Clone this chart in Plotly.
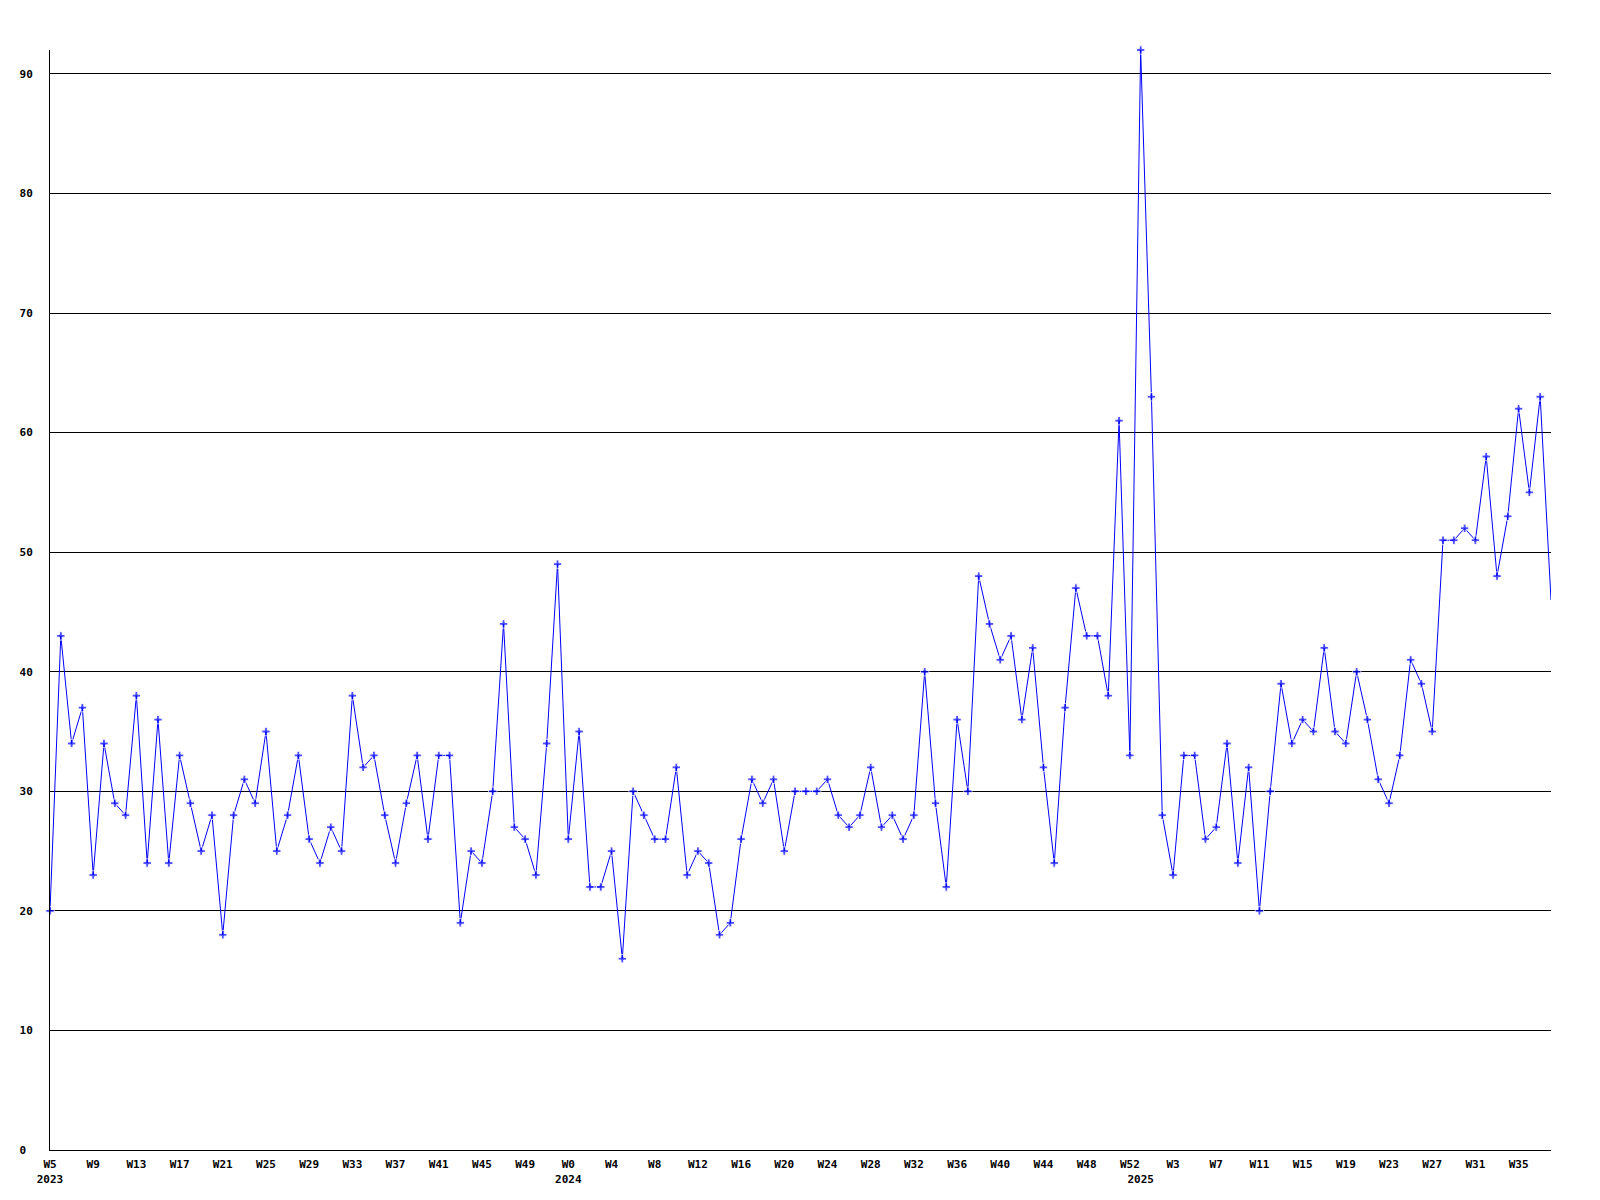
"""Weekly counts line chart, 2023 W5 to 2025 W38."""

import plotly.graph_objects as go

# Year segments: (year, first week, last week)
YEAR_WEEKS = [(2023, 5, 52), (2024, 0, 52), (2025, 0, 38)]

COUNTS = [
    # 2023 W5 - W52
    20, 43, 34, 37, 23, 34, 29, 28, 38, 24, 36, 24, 33, 29, 25, 28,
    18, 28, 31, 29, 35, 25, 28, 33, 26, 24, 27, 25, 38, 32, 33, 28,
    24, 29, 33, 26, 33, 33, 19, 25, 24, 30, 44, 27, 26, 23, 34, 49,
    # 2024 W0 - W52
    26, 35, 22, 22, 25, 16, 30, 28, 26, 26, 32, 23, 25, 24, 18, 19,
    26, 31, 29, 31, 25, 30, 30, 30, 31, 28, 27, 28, 32, 27, 28, 26,
    28, 40, 29, 22, 36, 30, 48, 44, 41, 43, 36, 42, 32, 24, 37, 47,
    43, 43, 38, 61, 33,
    # 2025 W0 - W38
    92, 63, 28, 23, 33, 33, 26, 27, 34, 24, 32, 20, 30, 39, 34, 36,
    35, 42, 35, 34, 40, 36, 31, 29, 33, 41, 39, 35, 51, 51, 52, 51,
    58, 48, 53, 62, 55, 63, 46,
]

Y_TICKS = [0, 10, 20, 30, 40, 50, 60, 70, 80, 90]

BLUE = "#0000FF"
FONT = "DejaVu Sans Mono"

years, weeks = [], []
for yr, w0, w1 in YEAR_WEEKS:
    for wk in range(w0, w1 + 1):
        years.append(yr)
        weeks.append(wk)

x = list(range(len(COUNTS)))

# x tick labels: every 4th week, year under the first point of each year
tickvals, ticktext = [], []
for i, (yr, wk) in enumerate(zip(years, weeks)):
    first = i == 0 or years[i - 1] != yr
    if i % 4 == 0:
        tickvals.append(i)
        ticktext.append(f"W{wk}" + (f"<br>{yr}" if first else ""))
    elif first:
        tickvals.append(i)
        ticktext.append(f"<br>{yr}")

sizes = [7] * len(COUNTS)
sizes[-1] = 0  # last point runs off the frame without a marker

fig = go.Figure()
fig.add_trace(go.Scatter(
    x=x,
    y=COUNTS,
    mode="lines+markers",
    line={"color": BLUE, "width": 1},
    marker={"symbol": "cross", "size": sizes, "color": BLUE},
    cliponaxis=False,
    showlegend=False,
))

# page body adds an 8px margin, so the figure is 16px smaller than the window
fig.update_layout(
    width=1584,
    height=1184,
    margin={"l": 42, "r": 41, "t": 42, "b": 42, "autoexpand": False},
    paper_bgcolor="white",
    plot_bgcolor="white",
    font={"family": FONT, "size": 11, "color": "black"},
    xaxis={
        "range": [0, len(COUNTS) - 1],
        "tickvals": tickvals,
        "ticktext": ticktext,
        "tickangle": 0,
        "ticks": "",
        "showgrid": False,
        "zeroline": False,
        "showline": True,
        "linecolor": "black",
        "linewidth": 1,
        "automargin": False,
        "ticklabelstandoff": 4,
        "tickfont": {"family": FONT, "size": 11, "weight": "bold"},
    },
    yaxis={
        "range": [0, 92],
        "tickvals": Y_TICKS,
        "ticktext": [f"{v}" if v else "0\u2007" for v in Y_TICKS],
        "ticks": "",
        "showgrid": True,
        "gridcolor": "black",
        "gridwidth": 1,
        "zeroline": False,
        "showline": True,
        "linecolor": "black",
        "linewidth": 1,
        "automargin": False,
        "ticklabelstandoff": 14,
        "tickfont": {"family": FONT, "size": 11, "weight": "bold"},
    },
)

fig.write_html("out.html")
